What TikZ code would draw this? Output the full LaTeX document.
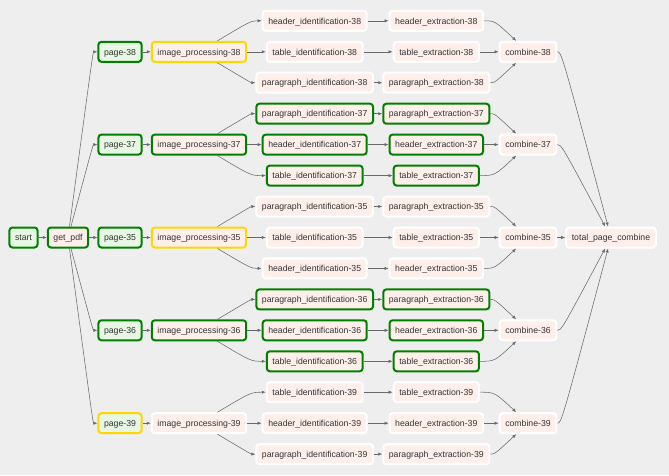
\documentclass[tikz,border=0pt]{standalone}
\usepackage{fontspec}
\setmainfont{Liberation Sans}
\usepackage{tikz}
\usetikzlibrary{arrows.meta}
\usepackage{xcolor}

\definecolor{canvas}{HTML}{EEEEEE}
\definecolor{opfill}{HTML}{FFEFEB}
\definecolor{dummyfill}{HTML}{E8F7E4}
\definecolor{okgreen}{HTML}{008000}
\definecolor{retrygold}{HTML}{FFD700}
\definecolor{edgegray}{HTML}{6A6A6A}
\definecolor{txt}{HTML}{333333}

\begin{document}
\begin{tikzpicture}[x=1pt,y=-1pt,
	flow/.style={draw=edgegray,line width=0.55pt,-{Latex[length=4pt,width=3.2pt]}},
	dummy/.style={fill=dummyfill},
	done/.style={draw=okgreen},
	retry/.style={draw=retrygold}]
	\fill[canvas] (0,0) rectangle (669,475);
	\useasboundingbox (0,0) rectangle (669,475);
	\begin{scope}[every node/.style={rectangle,rounded corners=3pt,draw=white,line width=2pt,fill=opfill,text=txt,
		minimum height=20pt,inner xsep=5.6pt,inner ysep=0pt,text height=7pt,text depth=0.6pt,
		font=\fontsize{8.7}{10}\selectfont}]
		\node[dummy,done] (start) at (23.5,237.5) {start};
		\node[done] (gp) at (68,237.5) {get\_pdf};

		\node[dummy,done] (pg38) at (120,51.8) {page-38};
		\node[dummy,done] (pg37) at (120,144.6) {page-37};
		\node[dummy,done] (pg35) at (120,237.5) {page-35};
		\node[dummy,done] (pg36) at (120,330.3) {page-36};
		\node[dummy,retry] (pg39) at (120,423.2) {page-39};

		\node[retry] (ip38) at (199,51.8) {image\_processing-38};
		\node[done] (ip37) at (199,144.6) {image\_processing-37};
		\node[retry] (ip35) at (199,237.5) {image\_processing-35};
		\node[done] (ip36) at (199,330.3) {image\_processing-36};
		\node (ip39) at (199,423.2) {image\_processing-39};

		\node (hid38) at (314.7,20.8) {header\_identification-38};
		\node (tid38) at (314.7,51.8) {table\_identification-38};
		\node (pid38) at (314.7,82.7) {paragraph\_identification-38};
		\node[done] (pid37) at (314.7,113.7) {paragraph\_identification-37};
		\node[done] (hid37) at (314.7,144.6) {header\_identification-37};
		\node[done] (tid37) at (314.7,175.6) {table\_identification-37};
		\node (pid35) at (314.7,206.5) {paragraph\_identification-35};
		\node (tid35) at (314.7,237.5) {table\_identification-35};
		\node (hid35) at (314.7,268.4) {header\_identification-35};
		\node[done] (pid36) at (314.7,299.4) {paragraph\_identification-36};
		\node[done] (hid36) at (314.7,330.3) {header\_identification-36};
		\node[done] (tid36) at (314.7,361.3) {table\_identification-36};
		\node (tid39) at (314.7,392.2) {table\_identification-39};
		\node (hid39) at (314.7,423.2) {header\_identification-39};
		\node (pid39) at (314.7,454.1) {paragraph\_identification-39};

		\node (hex38) at (436.3,20.8) {header\_extraction-38};
		\node (tex38) at (436.3,51.8) {table\_extraction-38};
		\node (pex38) at (436.3,82.7) {paragraph\_extraction-38};
		\node[done] (pex37) at (436.3,113.7) {paragraph\_extraction-37};
		\node[done] (hex37) at (436.3,144.6) {header\_extraction-37};
		\node[done] (tex37) at (436.3,175.6) {table\_extraction-37};
		\node (pex35) at (436.3,206.5) {paragraph\_extraction-35};
		\node (tex35) at (436.3,237.5) {table\_extraction-35};
		\node (hex35) at (436.3,268.4) {header\_extraction-35};
		\node[done] (pex36) at (436.3,299.4) {paragraph\_extraction-36};
		\node[done] (hex36) at (436.3,330.3) {header\_extraction-36};
		\node[done] (tex36) at (436.3,361.3) {table\_extraction-36};
		\node (tex39) at (436.3,392.2) {table\_extraction-39};
		\node (hex39) at (436.3,423.2) {header\_extraction-39};
		\node (pex39) at (436.3,454.1) {paragraph\_extraction-39};

		\node (cmb38) at (528,51.8) {combine-38};
		\node (cmb37) at (528,144.6) {combine-37};
		\node (cmb35) at (528,237.5) {combine-35};
		\node (cmb36) at (528,330.3) {combine-36};
		\node (cmb39) at (528,423.2) {combine-39};

		\node (total) at (611,237.5) {total\_page\_combine};
	\end{scope}

	\begin{scope}
	\draw[flow] (start) -- (gp);
	\draw[flow] (gp) .. controls (93,51.8) .. (pg38);
	\draw[flow] (gp) .. controls (93,144.6) .. (pg37);
	\draw[flow] (gp) -- (pg35);
	\draw[flow] (gp) .. controls (93,330.3) .. (pg36);
	\draw[flow] (gp) .. controls (93,423.2) .. (pg39);

	\draw[flow] (pg38) -- (ip38);
	\draw[flow] (pg37) -- (ip37);
	\draw[flow] (pg35) -- (ip35);
	\draw[flow] (pg36) -- (ip36);
	\draw[flow] (pg39) -- (ip39);

	% fan out to the identification tasks
	\draw[flow] (ip38) .. controls (251,20.8) .. (hid38);
	\draw[flow] (ip38) -- (tid38);
	\draw[flow] (ip38) .. controls (251,82.7) .. (pid38);
	\draw[flow] (ip37) .. controls (251,113.7) .. (pid37);
	\draw[flow] (ip37) -- (hid37);
	\draw[flow] (ip37) .. controls (251,175.6) .. (tid37);
	\draw[flow] (ip35) .. controls (251,206.5) .. (pid35);
	\draw[flow] (ip35) -- (tid35);
	\draw[flow] (ip35) .. controls (251,268.4) .. (hid35);
	\draw[flow] (ip36) .. controls (251,299.4) .. (pid36);
	\draw[flow] (ip36) -- (hid36);
	\draw[flow] (ip36) .. controls (251,361.3) .. (tid36);
	\draw[flow] (ip39) .. controls (251,392.2) .. (tid39);
	\draw[flow] (ip39) -- (hid39);
	\draw[flow] (ip39) .. controls (251,454.1) .. (pid39);

	\draw[flow] (hid38) -- (hex38);
	\draw[flow] (tid38) -- (tex38);
	\draw[flow] (pid38) -- (pex38);
	\draw[flow] (pid37) -- (pex37);
	\draw[flow] (hid37) -- (hex37);
	\draw[flow] (tid37) -- (tex37);
	\draw[flow] (pid35) -- (pex35);
	\draw[flow] (tid35) -- (tex35);
	\draw[flow] (hid35) -- (hex35);
	\draw[flow] (pid36) -- (pex36);
	\draw[flow] (hid36) -- (hex36);
	\draw[flow] (tid36) -- (tex36);
	\draw[flow] (tid39) -- (tex39);
	\draw[flow] (hid39) -- (hex39);
	\draw[flow] (pid39) -- (pex39);

	% fan in to the combine tasks
	\draw[flow] (hex38) .. controls (494.7,20.8) .. (cmb38);
	\draw[flow] (tex38) -- (cmb38);
	\draw[flow] (pex38) .. controls (494.7,82.7) .. (cmb38);
	\draw[flow] (pex37) .. controls (494.7,113.7) .. (cmb37);
	\draw[flow] (hex37) -- (cmb37);
	\draw[flow] (tex37) .. controls (494.7,175.6) .. (cmb37);
	\draw[flow] (pex35) .. controls (494.7,206.5) .. (cmb35);
	\draw[flow] (tex35) -- (cmb35);
	\draw[flow] (hex35) .. controls (494.7,268.4) .. (cmb35);
	\draw[flow] (pex36) .. controls (494.7,299.4) .. (cmb36);
	\draw[flow] (hex36) -- (cmb36);
	\draw[flow] (tex36) .. controls (494.7,361.3) .. (cmb36);
	\draw[flow] (tex39) .. controls (494.7,392.2) .. (cmb39);
	\draw[flow] (hex39) -- (cmb39);
	\draw[flow] (pex39) .. controls (494.7,454.1) .. (cmb39);

	\draw[flow] (cmb38) .. controls (561.4,51.8) .. (total);
	\draw[flow] (cmb37) .. controls (561.4,144.6) .. (total);
	\draw[flow] (cmb35) -- (total);
	\draw[flow] (cmb36) .. controls (561.4,330.3) .. (total);
	\draw[flow] (cmb39) .. controls (561.4,423.2) .. (total);
	\end{scope}
\end{tikzpicture}
\end{document}
